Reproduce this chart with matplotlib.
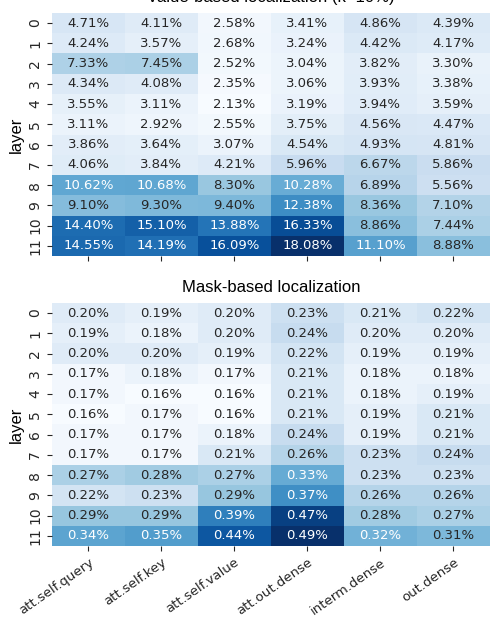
import numpy as np
import matplotlib
matplotlib.use("Agg")
import matplotlib.pyplot as plt
import seaborn as sns

modules = ["att.self.query", "att.self.key", "att.self.value",
           "att.out.dense", "interm.dense", "out.dense"]
layers = list(range(12))

value_based = np.array([
    [4.71, 4.11, 2.58, 3.41, 4.86, 4.39],
    [4.24, 3.57, 2.68, 3.24, 4.42, 4.17],
    [7.33, 7.45, 2.52, 3.04, 3.82, 3.30],
    [4.34, 4.08, 2.35, 3.06, 3.93, 3.38],
    [3.55, 3.11, 2.13, 3.19, 3.94, 3.59],
    [3.11, 2.92, 2.55, 3.75, 4.56, 4.47],
    [3.86, 3.64, 3.07, 4.54, 4.93, 4.81],
    [4.06, 3.84, 4.21, 5.96, 6.67, 5.86],
    [10.62, 10.68, 8.30, 10.28, 6.89, 5.56],
    [9.10, 9.30, 9.40, 12.38, 8.36, 7.10],
    [14.40, 15.10, 13.88, 16.33, 8.86, 7.44],
    [14.55, 14.19, 16.09, 18.08, 11.10, 8.88],
])

mask_based = np.array([
    [0.20, 0.19, 0.20, 0.23, 0.21, 0.22],
    [0.19, 0.18, 0.20, 0.24, 0.20, 0.20],
    [0.20, 0.20, 0.19, 0.22, 0.19, 0.19],
    [0.17, 0.18, 0.17, 0.21, 0.18, 0.18],
    [0.17, 0.16, 0.16, 0.21, 0.18, 0.19],
    [0.16, 0.17, 0.16, 0.21, 0.19, 0.21],
    [0.17, 0.17, 0.18, 0.24, 0.19, 0.21],
    [0.17, 0.17, 0.21, 0.26, 0.23, 0.24],
    [0.27, 0.28, 0.27, 0.33, 0.23, 0.23],
    [0.22, 0.23, 0.29, 0.37, 0.26, 0.26],
    [0.29, 0.29, 0.39, 0.47, 0.28, 0.27],
    [0.34, 0.35, 0.44, 0.49, 0.32, 0.31],
])

title_font = ["Liberation Sans", "DejaVu Sans"]

fig = plt.figure(figsize=(4.92, 6.17), dpi=100)
ax1 = fig.add_axes([0.1057, 0.585, 0.890, 0.394])
ax2 = fig.add_axes([0.1057, 0.115, 0.890, 0.394])

for ax, data, title in [(ax1, value_based, "Value-based localization (k=10%)"),
                        (ax2, mask_based, "Mask-based localization")]:
    labels = np.array([[f"{v:.2f}%" for v in row] for row in data])
    sns.heatmap(data, ax=ax, cmap="Blues", annot=labels, fmt="",
                annot_kws={"fontsize": 9.5}, cbar=False,
                xticklabels=modules, yticklabels=layers)
    ax.set_title(title, family=title_font, fontsize=12, pad=8)
    ax.set_ylabel("layer", family=title_font, fontsize=12, labelpad=3)
    ax.tick_params(axis="both", labelsize=10, colors="#262626")
    ax.tick_params(axis="y", rotation=90)

ax1.set_xticklabels([])
ax2.set_xticklabels(modules, rotation=35, ha="right", rotation_mode="anchor",
                    fontsize=9.5)

fig.savefig("out.png", dpi=100)
